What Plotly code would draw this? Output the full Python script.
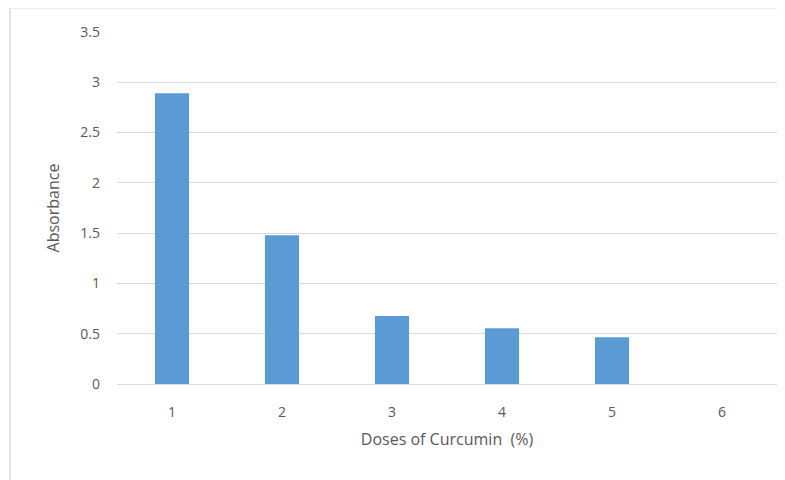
import plotly.graph_objects as go

doses = ["1", "2", "3", "4", "5", "6"]
absorbance = [2.89, 1.48, 0.675, 0.555, 0.465, 0.0]
y_ticks = [0, 0.5, 1, 1.5, 2, 2.5, 3, 3.5]
y_tick_labels = ["0", "0.5", "1", "1.5", "2", "2.5", "3", "3.5"]

# page body has an 8px margin, so the figure starts at (8, 8) in the window
OFF = 8
W, H = 785 - OFF, 480 - OFF
L, R, T, B = 117 - OFF, 8, 32 - OFF, 96
pw, ph = W - L - R, H - T - B

fig = go.Figure(go.Bar(x=doses, y=absorbance, marker_color="#5b9bd5",
                       marker_line_width=0, width=0.31))

font_c = "#595959"
fig.update_layout(
    width=W, height=H,
    margin=dict(l=L, r=R, t=T, b=B),
    paper_bgcolor="white", plot_bgcolor="white",
    showlegend=False,
    font=dict(family="Open Sans, Liberation Sans, sans-serif", color=font_c, size=14),
    xaxis=dict(
        type="category",
        showgrid=False,
        showline=True, linecolor="#d9d9d9", linewidth=1,
        ticks="", tickfont=dict(size=14, color=font_c),
        ticklabelstandoff=15,
        title=dict(text="Doses of Curcumin  (%)", font=dict(size=16, color=font_c), standoff=14),
    ),
    yaxis=dict(
        range=[0, 3.5],
        tickvals=y_ticks, ticktext=y_tick_labels,
        showgrid=True, gridcolor="#d9d9d9", gridwidth=1,
        zeroline=False, showline=False,
        ticks="", tickfont=dict(size=14, color=font_c),
        ticklabelstandoff=16,
        title=dict(text="Absorbance", font=dict(size=16, color=font_c), standoff=16),
    ),
)

# chart-area border (partially visible in the reference)
fig.add_shape(
    type="rect", xref="paper", yref="paper",
    x0=(10 - OFF - L) / pw, x1=(W + 50 - L) / pw,
    y0=-(B + 60) / ph, y1=(H - B) / ph + 0.001,
    line=dict(color="#d9d9d9", width=1.5), fillcolor="rgba(0,0,0,0)", layer="below",
)

fig.write_html("out.html")
